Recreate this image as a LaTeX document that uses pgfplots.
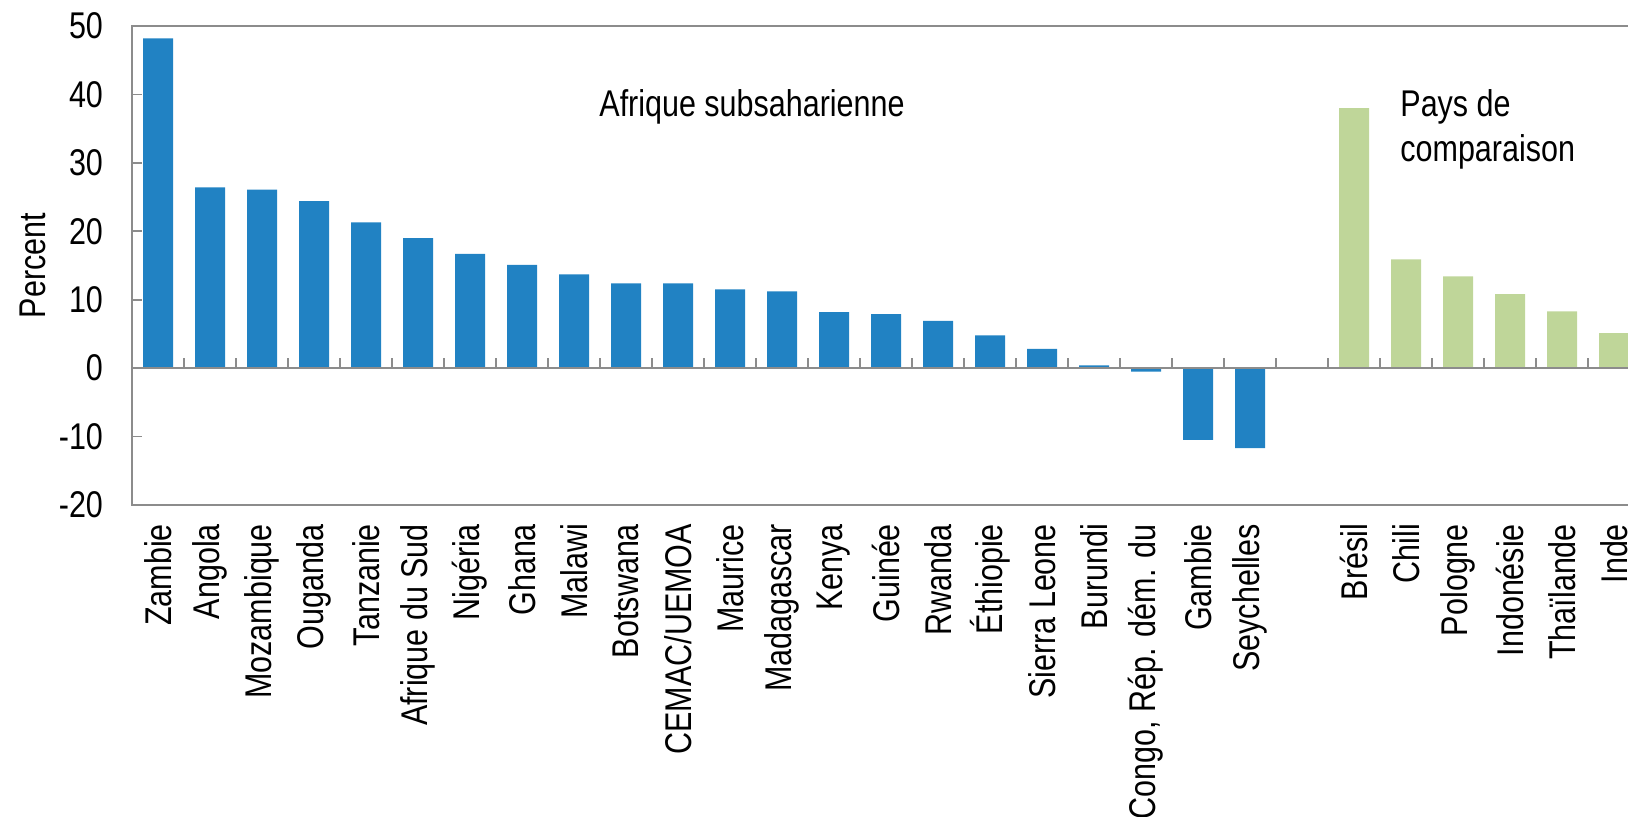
\documentclass[border=0pt]{standalone}
\usepackage{fontspec}
\setmainfont{Liberation Sans}[FakeStretch=0.82]
\usepackage{pgfplots}
\usepackage{pgfplotstable}
\pgfplotsset{compat=1.18}

\definecolor{ssablue}{HTML}{2182C3}
\definecolor{cmpgreen}{HTML}{BFD699}
\definecolor{axisgray}{HTML}{8C8C8C}

% Afrique subsaharienne
\pgfplotstableread{
x y
0 48.2
1 26.4
2 26.1
3 24.4
4 21.3
5 19.0
6 16.7
7 15.1
8 13.7
9 12.4
10 12.4
11 11.5
12 11.2
13 8.2
14 7.9
15 6.9
16 4.8
17 2.8
18 0.4
19 -0.5
20 -10.5
21 -11.7
}\ssa

% Pays de comparaison
\pgfplotstableread{
x y
23 38.0
24 15.9
25 13.4
26 10.8
27 8.3
28 5.1
}\cmp

\begin{document}
\begin{tikzpicture}[font=\fontsize{18.6}{22.5}\selectfont]
\useasboundingbox (0,0) rectangle (814pt,408.5pt);
\clip (0,0) rectangle (814pt,408.5pt);
\begin{axis}[
  at={(66pt,156pt)}, anchor=south west,
  scale only axis, width=780pt, height=239.5pt,
  xmin=-0.5, xmax=29.5, ymin=-20, ymax=50,
  ybar, bar width=15pt, bar shift=0pt,
  axis line style={axisgray, line width=1pt},
  ytick={-20,-10,...,50},
  ytick pos=left, tick align=inside,
  major tick length=5pt,
  ytick style={axisgray, line width=0.8pt},
  xtick={0,...,28},
  xticklabels={Zambie, Angola, Mozambique, Ouganda, Tanzanie, Afrique du Sud,
    Nigéria, Ghana, Malawi, Botswana, CEMAC/UEMOA, Maurice, Madagascar, Kenya,
    Guinée, Rwanda, Éthiopie, Sierra Leone, Burundi, {Congo, Rép. dém. du},
    Gambie, Seychelles, {}, Brésil, Chili, Pologne, Indonésie, Thaïlande, Inde},
  xtick style={draw=none},
  xticklabel style={rotate=90, anchor=east},
  xticklabel shift=6pt,
  yticklabel shift=11pt,
  /pgf/number format/assume math mode=true,
  ylabel={Percent},
  every axis y label/.style={at={(axis description cs:-0.0638,0.5)}, rotate=90, anchor=center},
]
\addplot[fill=ssablue, draw=none] table[x=x, y=y] {\ssa};
\addplot[fill=cmpgreen, draw=none] table[x=x, y=y] {\cmp};
\draw[axisgray, line width=0.9pt] (axis cs:-0.5,0) -- (axis cs:29.5,0);
\pgfplotsinvokeforeach{0.5,1.5,...,28.5}{
  \draw[axisgray, line width=1pt] (axis cs:#1,0) -- ++(0pt,5pt);
}
\end{axis}
\node[anchor=base west, inner sep=0pt] at (299.5pt,350.2pt) {Afrique subsaharienne};
\node[anchor=base west, inner sep=0pt] at (700pt,350.2pt) {Pays de};
\node[anchor=base west, inner sep=0pt] at (700pt,327.6pt) {comparaison};
\end{tikzpicture}
\end{document}
